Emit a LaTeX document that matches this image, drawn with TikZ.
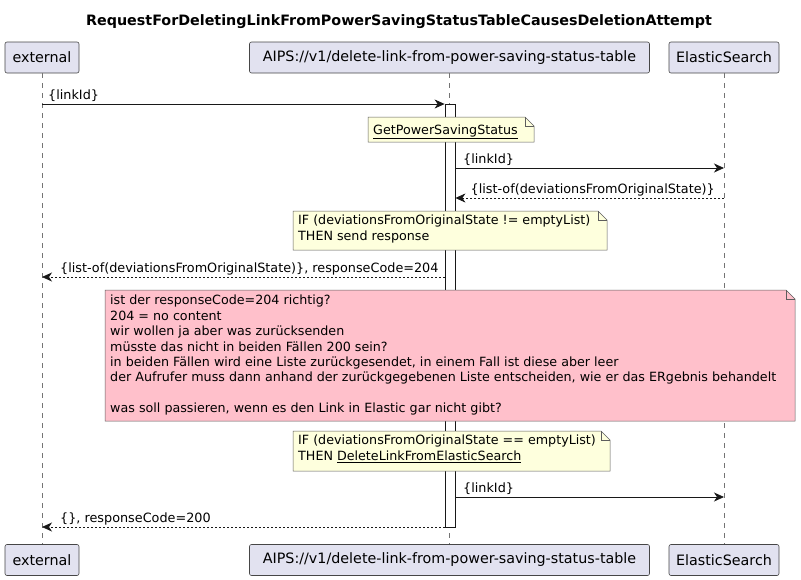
\documentclass[tikz,border=0pt]{standalone}
\usepackage{fontspec}
\setmainfont{DejaVu Sans}
\usetikzlibrary{arrows.meta}

\definecolor{partfill}{HTML}{E2E2F0}
\definecolor{partline}{HTML}{181818}
\definecolor{notefill}{HTML}{FEFFDD}
\definecolor{pinkfill}{HTML}{FFC0CB}

% note with folded corner: x1, y1, x2, y2, fill
\newcommand{\notebg}[5]{%
  \draw[line width=0.5pt, partline!70, fill=#5]
       (#1,#2) -- (#3-9,#2) -- (#3,#2+9) -- (#3,#4) -- (#1,#4) -- cycle;
  \draw[line width=0.5pt, partline!70] (#3-9,#2) -- (#3-9,#2+9) -- (#3,#2+9);
}

\tikzset{
  part/.style={draw=partline!80, fill=partfill, line width=0.6pt, rounded corners=2pt,
               minimum height=31pt, inner sep=0pt, font=\fontsize{14.3}{16}\selectfont},
  lifeline/.style={line width=0.5pt, partline!60, dash pattern=on 5pt off 5pt},
  msg/.style={line width=0.8pt, partline, -{Stealth[length=10pt, width=9pt, inset=3pt]}},
  ret/.style={msg, dash pattern=on 2pt off 2pt},
  lbl/.style={inner sep=0pt, font=\fontsize{12.8}{15}\selectfont},
  notetxt/.style={inner sep=0pt, align=left, font=\fontsize{12.7}{15.4}\selectfont}
}

\begin{document}
\begin{tikzpicture}[x=1pt, y=-1pt]
      \useasboundingbox (0,0) rectangle (801,579);

      % Title
      \node[font=\fontsize{14.3}{16}\selectfont\bfseries] (title) at (399,22)
        {RequestForDeletingLinkFromPowerSavingStatusTableCausesDeletionAttempt};

      % Participants
      \node[part, minimum width=74pt]  (extTop) at (42,57.5)  {external};
      \node[part, minimum width=400pt] (aipsTop) at (449.5,57.5) {AIPS://v1/delete-link-from-power-saving-status-table};
      \node[part, minimum width=110pt] (esTop) at (724,57.5) {ElasticSearch};
      \node[part, minimum width=74pt]  (extBot) at (42,560)  {external};
      \node[part, minimum width=400pt] (aipsBot) at (449.5,560) {AIPS://v1/delete-link-from-power-saving-status-table};
      \node[part, minimum width=110pt] (esBot) at (724,560) {ElasticSearch};

      % Lifelines
      \draw[lifeline] (extTop) -- (extBot);
      \draw[lifeline] (aipsTop) -- (aipsBot);
      \draw[lifeline] (esTop) -- (esBot);

      % Activation
      \node[draw=partline, fill=white, line width=0.8pt, minimum width=10pt,
            minimum height=423pt, inner sep=0pt] (act) at (450,315.5) {};

      % Message rows
      \coordinate (m1) at (0,104);
      \coordinate (m2) at (0,168);
      \coordinate (m3) at (0,198);
      \coordinate (m4) at (0,277);
      \coordinate (m5) at (0,497);
      \coordinate (m6) at (0,527);

      % Messages
      \draw[msg] (extTop |- m1) -- (act.west |- m1);
      \node[lbl, anchor=base west] (m1lbl) at (48,99) {\{linkId\}};

      \notebg{368}{117}{534}{142}{notefill}
      \node[notetxt, anchor=base west] (n1) at (373,134) {\underline{GetPowerSavingStatus}};

      \draw[msg] (act.east |- m2) -- (esTop |- m2);
      \node[lbl, anchor=base west] (m2lbl) at (463,163) {\{linkId\}};
      \draw[ret] (esTop |- m3) -- (act.east |- m3);
      \node[lbl, anchor=base east] (m3lbl) at (715,193) {\{list-of(deviationsFromOriginalState)\}};

      \notebg{293}{211}{607}{250}{notefill}
      \node[notetxt, anchor=north west] (n2) at (298,215)
        {IF (deviationsFromOriginalState != emptyList)\\THEN send response};

      \draw[ret] (act.west |- m4) -- (extTop |- m4);
      \node[lbl, anchor=base west] (m4lbl) at (60,272) {\{list-of(deviationsFromOriginalState)\}, responseCode=204};

      % Question note
      \notebg{105}{290}{795}{421}{pinkfill}
      \node[notetxt, anchor=north west] (n3) at (110,295)
        {ist der responseCode=204 richtig?\\
         204 = no content\\
         wir wollen ja aber was zurücksenden\\
         müsste das nicht in beiden Fällen 200 sein?\\
         in beiden Fällen wird eine Liste zurückgesendet, in einem Fall ist diese aber leer\\
         der Aufrufer muss dann anhand der zurückgegebenen Liste entscheiden, wie er das ERgebnis behandelt\\
         \strut\\
         was soll passieren, wenn es den Link in Elastic gar nicht gibt?};

      \notebg{293}{431}{610}{471}{notefill}
      \node[notetxt, anchor=north west] (n4) at (298,435)
        {IF (deviationsFromOriginalState == emptyList)\\THEN \underline{DeleteLinkFromElasticSearch}};

      \draw[msg] (act.east |- m5) -- (esTop |- m5);
      \node[lbl, anchor=base west] (m5lbl) at (463,492) {\{linkId\}};
      \draw[ret] (act.west |- m6) -- (extTop |- m6);
      \node[lbl, anchor=base west] (m6lbl) at (60,522) {\{\}, responseCode=200};
\end{tikzpicture}
\end{document}
